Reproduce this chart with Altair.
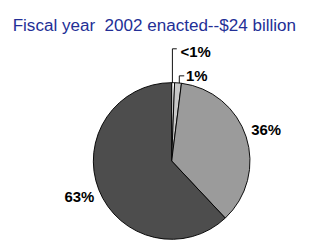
import altair as alt
import pandas as pd

# ---- data ----
categories = ["Segment 1", "Segment 2", "Segment 3", "Segment 4"]
shares = [0.6, 1.4, 36.0, 62.0]
labels = ["<1%", "1%", "36%", "63%"]
colors = ["#ffffff", "#c8c8c8", "#9b9b9b", "#4d4d4d"]
title_text = ["Fiscal year\u00a0 2002 enacted--$24 billion"]

df = pd.DataFrame({
    "category": categories,
    "share": shares,
    "label": labels,
    "idx": list(range(len(categories))),
})

FONT = "Liberation Sans, Arial, Helvetica, sans-serif"
W, H = 304, 231
CX, CY, R = 175.5, 155.3, 84

base = alt.Chart(df).encode(
    theta=alt.Theta("share:Q", stack=True),
    order=alt.Order("idx:Q"),
    x=alt.value(CX),
    y=alt.value(CY),
)

pie = base.mark_arc(outerRadius=R, stroke="#000000", strokeWidth=1).encode(
    color=alt.Color("category:N", scale=alt.Scale(domain=categories, range=colors), legend=None)
)

label_style = dict(fontSize=16, fontWeight="bold", font=FONT, baseline="middle", color="#000000")

big_labels = base.mark_text(radius=106.5, align="center", **label_style).encode(
    text="label:N",
    opacity=alt.condition(alt.datum.idx >= 2, alt.value(1), alt.value(0)),
)

lbl_lt1 = base.mark_text(radius=116.3, dx=7.3, align="left", **label_style).encode(
    text="label:N",
    opacity=alt.condition(alt.datum.idx == 0, alt.value(1), alt.value(0)),
)

lbl_1 = base.mark_text(radius=90.6, dx=8, align="left", **label_style).encode(
    text="label:N",
    opacity=alt.condition(alt.datum.idx == 1, alt.value(1), alt.value(0)),
)

one = alt.Chart(pd.DataFrame({"k": [0]}))
lead_style = dict(color="#000000", strokeWidth=1)
lead1_v = one.mark_rule(**lead_style).encode(x=alt.value(CX + 0.8), y=alt.value(CY - 120.3), y2=alt.value(CY - R))
lead1_h = one.mark_rule(**lead_style).encode(x=alt.value(CX + 0.8), x2=alt.value(CX + 5.5), y=alt.value(CY - 120.3))
lead2_v = one.mark_rule(**lead_style).encode(x=alt.value(CX + 8.2), y=alt.value(CY - 91.3), y2=alt.value(CY - 83.6))
lead2_h = one.mark_rule(**lead_style).encode(x=alt.value(CX + 8.2), x2=alt.value(CX + 13.5), y=alt.value(CY - 91.3))

title = alt.Chart(pd.DataFrame({"t": title_text})).mark_text(
    fontSize=18.3, font=FONT, color="#232f96", align="left", baseline="alphabetic"
).encode(text="t:N", x=alt.value(5), y=alt.value(15.5))

chart = alt.layer(pie, lead1_v, lead1_h, lead2_v, lead2_h, big_labels, lbl_lt1, lbl_1, title).properties(
    width=W, height=H, padding=0,
).configure_view(stroke=None)

chart.save("out.html", embed_options={"renderer": "svg", "actions": False})
